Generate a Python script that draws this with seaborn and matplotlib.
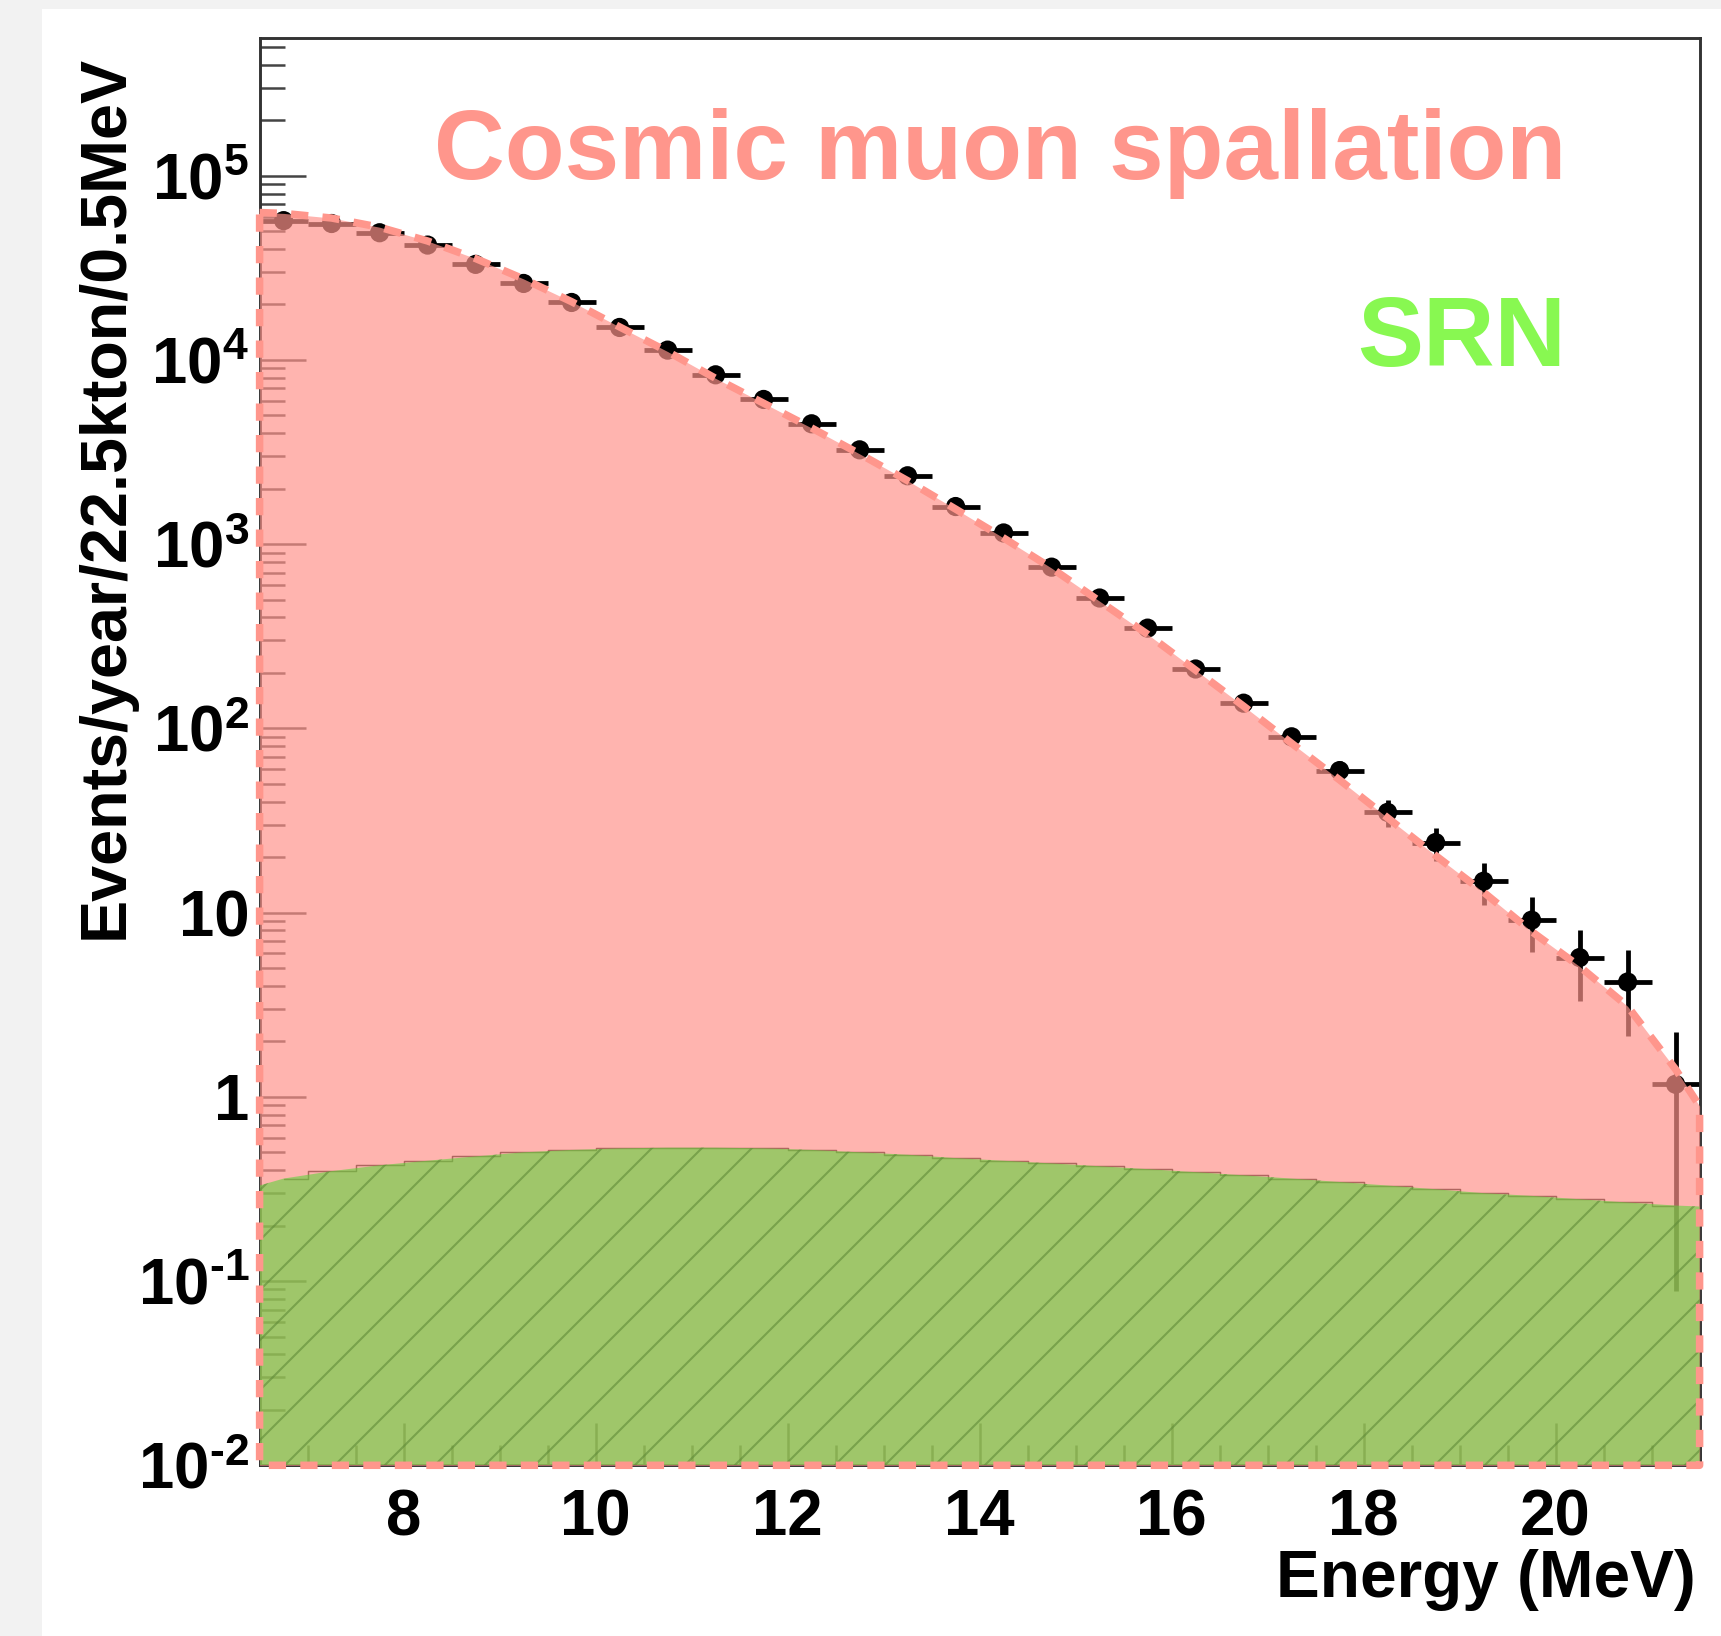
import numpy as np
import pandas as pd
import matplotlib
matplotlib.use("Agg")
import matplotlib.pyplot as plt
import seaborn as sns
from matplotlib.patches import Rectangle
from matplotlib.ticker import FixedLocator, FixedFormatter, LogLocator, NullFormatter, MultipleLocator

# Bin centres in MeV (0.5 MeV bins spanning 6.5-21.5 MeV)
energy = [6.75, 7.25, 7.75, 8.25, 8.75, 9.25, 9.75, 10.25, 10.75, 11.25,
          11.75, 12.25, 12.75, 13.25, 13.75, 14.25, 14.75, 15.25, 15.75, 16.25,
          16.75, 17.25, 17.75, 18.25, 18.75, 19.25, 19.75, 20.25, 20.75, 21.25]
energy_range = [6.5, 21.5]

# Observed events per bin
observed = [57000, 55000, 49000, 42000, 33000, 26000, 20500, 15000, 11300, 8300,
            6100, 4500, 3250, 2350, 1600, 1150, 750, 510, 350, 210,
            137, 90, 59, 35, 24, 14.8, 9.1, 5.7, 4.2, 1.17]

# Expected cosmic-muon spallation background at bin centres, plus range ends
spallation = [62400, 58900, 52500, 44200, 35500, 27500, 20700, 15100, 11100, 7940,
              5820, 4270, 3090, 2210, 1550, 1080, 741, 490, 324, 207,
              132, 83, 52.5, 32.7, 20.4, 12.9, 7.9, 5.1, 3.1, 1.41]
spallation_ends = [63100, 0.89]

# Supernova relic neutrino (SRN) signal at bin centres, plus range ends
srn = [0.36, 0.395, 0.425, 0.45, 0.475, 0.50, 0.515, 0.525, 0.53, 0.53,
       0.525, 0.515, 0.50, 0.485, 0.465, 0.45, 0.435, 0.42, 0.405, 0.39,
       0.375, 0.36, 0.345, 0.33, 0.315, 0.30, 0.29, 0.278, 0.267, 0.257]
srn_ends = [0.33, 0.254]

x_ticks = [8, 10, 12, 14, 16, 18, 20]
x_tick_labels = ["8", "10", "12", "14", "16", "18", "20"]
y_ticks = [1e-2, 1e-1, 1, 10, 1e2, 1e3, 1e4, 1e5]
y_tick_labels = [r"$\mathbf{10^{\text{-2}}}$", r"$\mathbf{10^{\text{-1}}}$", "1", "10",
                 r"$\mathbf{10^{2}}$", r"$\mathbf{10^{3}}$", r"$\mathbf{10^{4}}$",
                 r"$\mathbf{10^{5}}$"]
y_range = [1e-2, 5.56e5]

salmon = "#FF968C"
pink_fill = "#FF938B"
green_fill = "#60D33C"
green_hatch = "#5E8A38"
srn_text = "#88F851"

sns.set_style("white")
plt.rcParams["font.family"] = ["Liberation Sans", "DejaVu Sans"]
plt.rcParams["font.weight"] = "bold"
plt.rcParams["mathtext.fontset"] = "custom"
plt.rcParams["mathtext.bf"] = "Liberation Sans:bold"
plt.rcParams["mathtext.rm"] = "Liberation Sans:bold"
plt.rcParams["hatch.linewidth"] = 1.0
plt.rcParams["text.color"] = "black"
plt.rcParams["axes.labelcolor"] = "black"

DPI = 150
W, H = 1721, 1636
fig = plt.figure(figsize=(W / DPI, H / DPI), dpi=DPI, facecolor="#f2f2f2")
fig.add_artist(Rectangle((42 / W, 0), 1 - 42 / W, 1 - 9 / H, transform=fig.transFigure,
                         facecolor="white", edgecolor="none", zorder=-10))

ax = fig.add_axes([259.6 / W, 1 - 1465.3 / H, (1699.6 - 259.6) / W, (1465.3 - 38.4) / H])
ax.set_facecolor("white")
ax.set_yscale("log")
ax.set_xlim(*energy_range)
ax.set_ylim(*y_range)
ax.set_axisbelow(True)

# Data points with Poisson errors and half-bin widths
obs = np.array(observed)
df = pd.DataFrame({"energy": energy, "events": observed})
ax.errorbar(energy, observed, xerr=0.25, yerr=np.sqrt(obs), fmt="none",
            ecolor="black", elinewidth=2.3, capsize=0, zorder=2)
sns.scatterplot(data=df, x="energy", y="events", ax=ax, color="black", s=85,
                edgecolor="none", zorder=2.1, legend=False)

# SRN histogram outline (bin steps)
ax.step(energy, srn, where="mid", color="black", lw=0.7, zorder=2.5)

# Spallation background, filled to the bottom of the frame
curve_x = [energy_range[0]] + energy + [energy_range[1]]
curve_y = [spallation_ends[0]] + spallation + [spallation_ends[1]]
ax.fill_between(curve_x, curve_y, y_range[0], facecolor=pink_fill, alpha=0.69,
                lw=0, zorder=3)

# SRN signal, hatched
srn_y = [srn_ends[0]] + srn + [srn_ends[1]]
ax.fill_between(curve_x, srn_y, y_range[0], facecolor=green_fill, edgecolor=green_hatch,
                hatch="/", alpha=0.6, lw=0, zorder=4)

# Dashed outline around the spallation region
outline = pd.DataFrame({
    "x": curve_x + [energy_range[1], energy_range[0], energy_range[0]],
    "y": curve_y + [y_range[0], y_range[0], curve_y[0]],
})
sns.lineplot(data=outline, x="x", y="y", sort=False, estimator=None, ax=ax,
             color=salmon, lw=3.6, zorder=5, clip_on=False)
ax.lines[-1].set_dashes([2.3, 1.9])

# Axes styling
for side in ["left", "right", "top", "bottom"]:
    ax.spines[side].set_color("#333333")
    ax.spines[side].set_linewidth(1.4)
    ax.spines[side].set_zorder(2.6)

ax.xaxis.set_major_locator(FixedLocator(x_ticks))
ax.xaxis.set_major_formatter(FixedFormatter(x_tick_labels))
ax.xaxis.set_minor_locator(MultipleLocator(0.5))
ax.yaxis.set_major_locator(FixedLocator(y_ticks))
ax.yaxis.set_major_formatter(FixedFormatter(y_tick_labels))
ax.yaxis.set_minor_locator(LogLocator(base=10, subs=np.arange(2, 10)))
ax.yaxis.set_minor_formatter(NullFormatter())

ax.tick_params(which="both", direction="in", left=True, bottom=True, top=False, right=False,
               color="#444444", labelcolor="black", width=1.2, labelsize=30.5)
ax.tick_params(axis="x", which="major", length=20, pad=11)
ax.tick_params(axis="x", which="minor", length=9.5)
ax.tick_params(axis="y", which="major", length=22, pad=5)
ax.tick_params(axis="y", which="minor", length=12)
for lab in ax.get_xticklabels() + ax.get_yticklabels():
    lab.set_fontweight("bold")

ax.set_xlabel("Energy (MeV)", fontsize=31.5, fontweight="bold", loc="right", color="black")
ax.xaxis.label.set_va("baseline")
ax.xaxis.set_label_coords(0.9975, -0.0923)
ax.set_ylabel("Events/year/22.5kton/0.5MeV", fontsize=31, fontweight="bold", loc="top",
              color="black")
ax.yaxis.label.set_va("baseline")
ax.yaxis.set_label_coords(-0.0949, 0.9883)

ax.text(0.9072, 0.9015, "Cosmic muon spallation", transform=ax.transAxes,
        ha="right", va="baseline", fontsize=47, fontweight="bold", color=salmon, zorder=6)
ax.text(0.9072, 0.7707, "SRN", transform=ax.transAxes,
        ha="right", va="baseline", fontsize=47.5, fontweight="bold", color=srn_text, zorder=6)

fig.savefig("out.png", dpi=DPI, facecolor=fig.get_facecolor())
